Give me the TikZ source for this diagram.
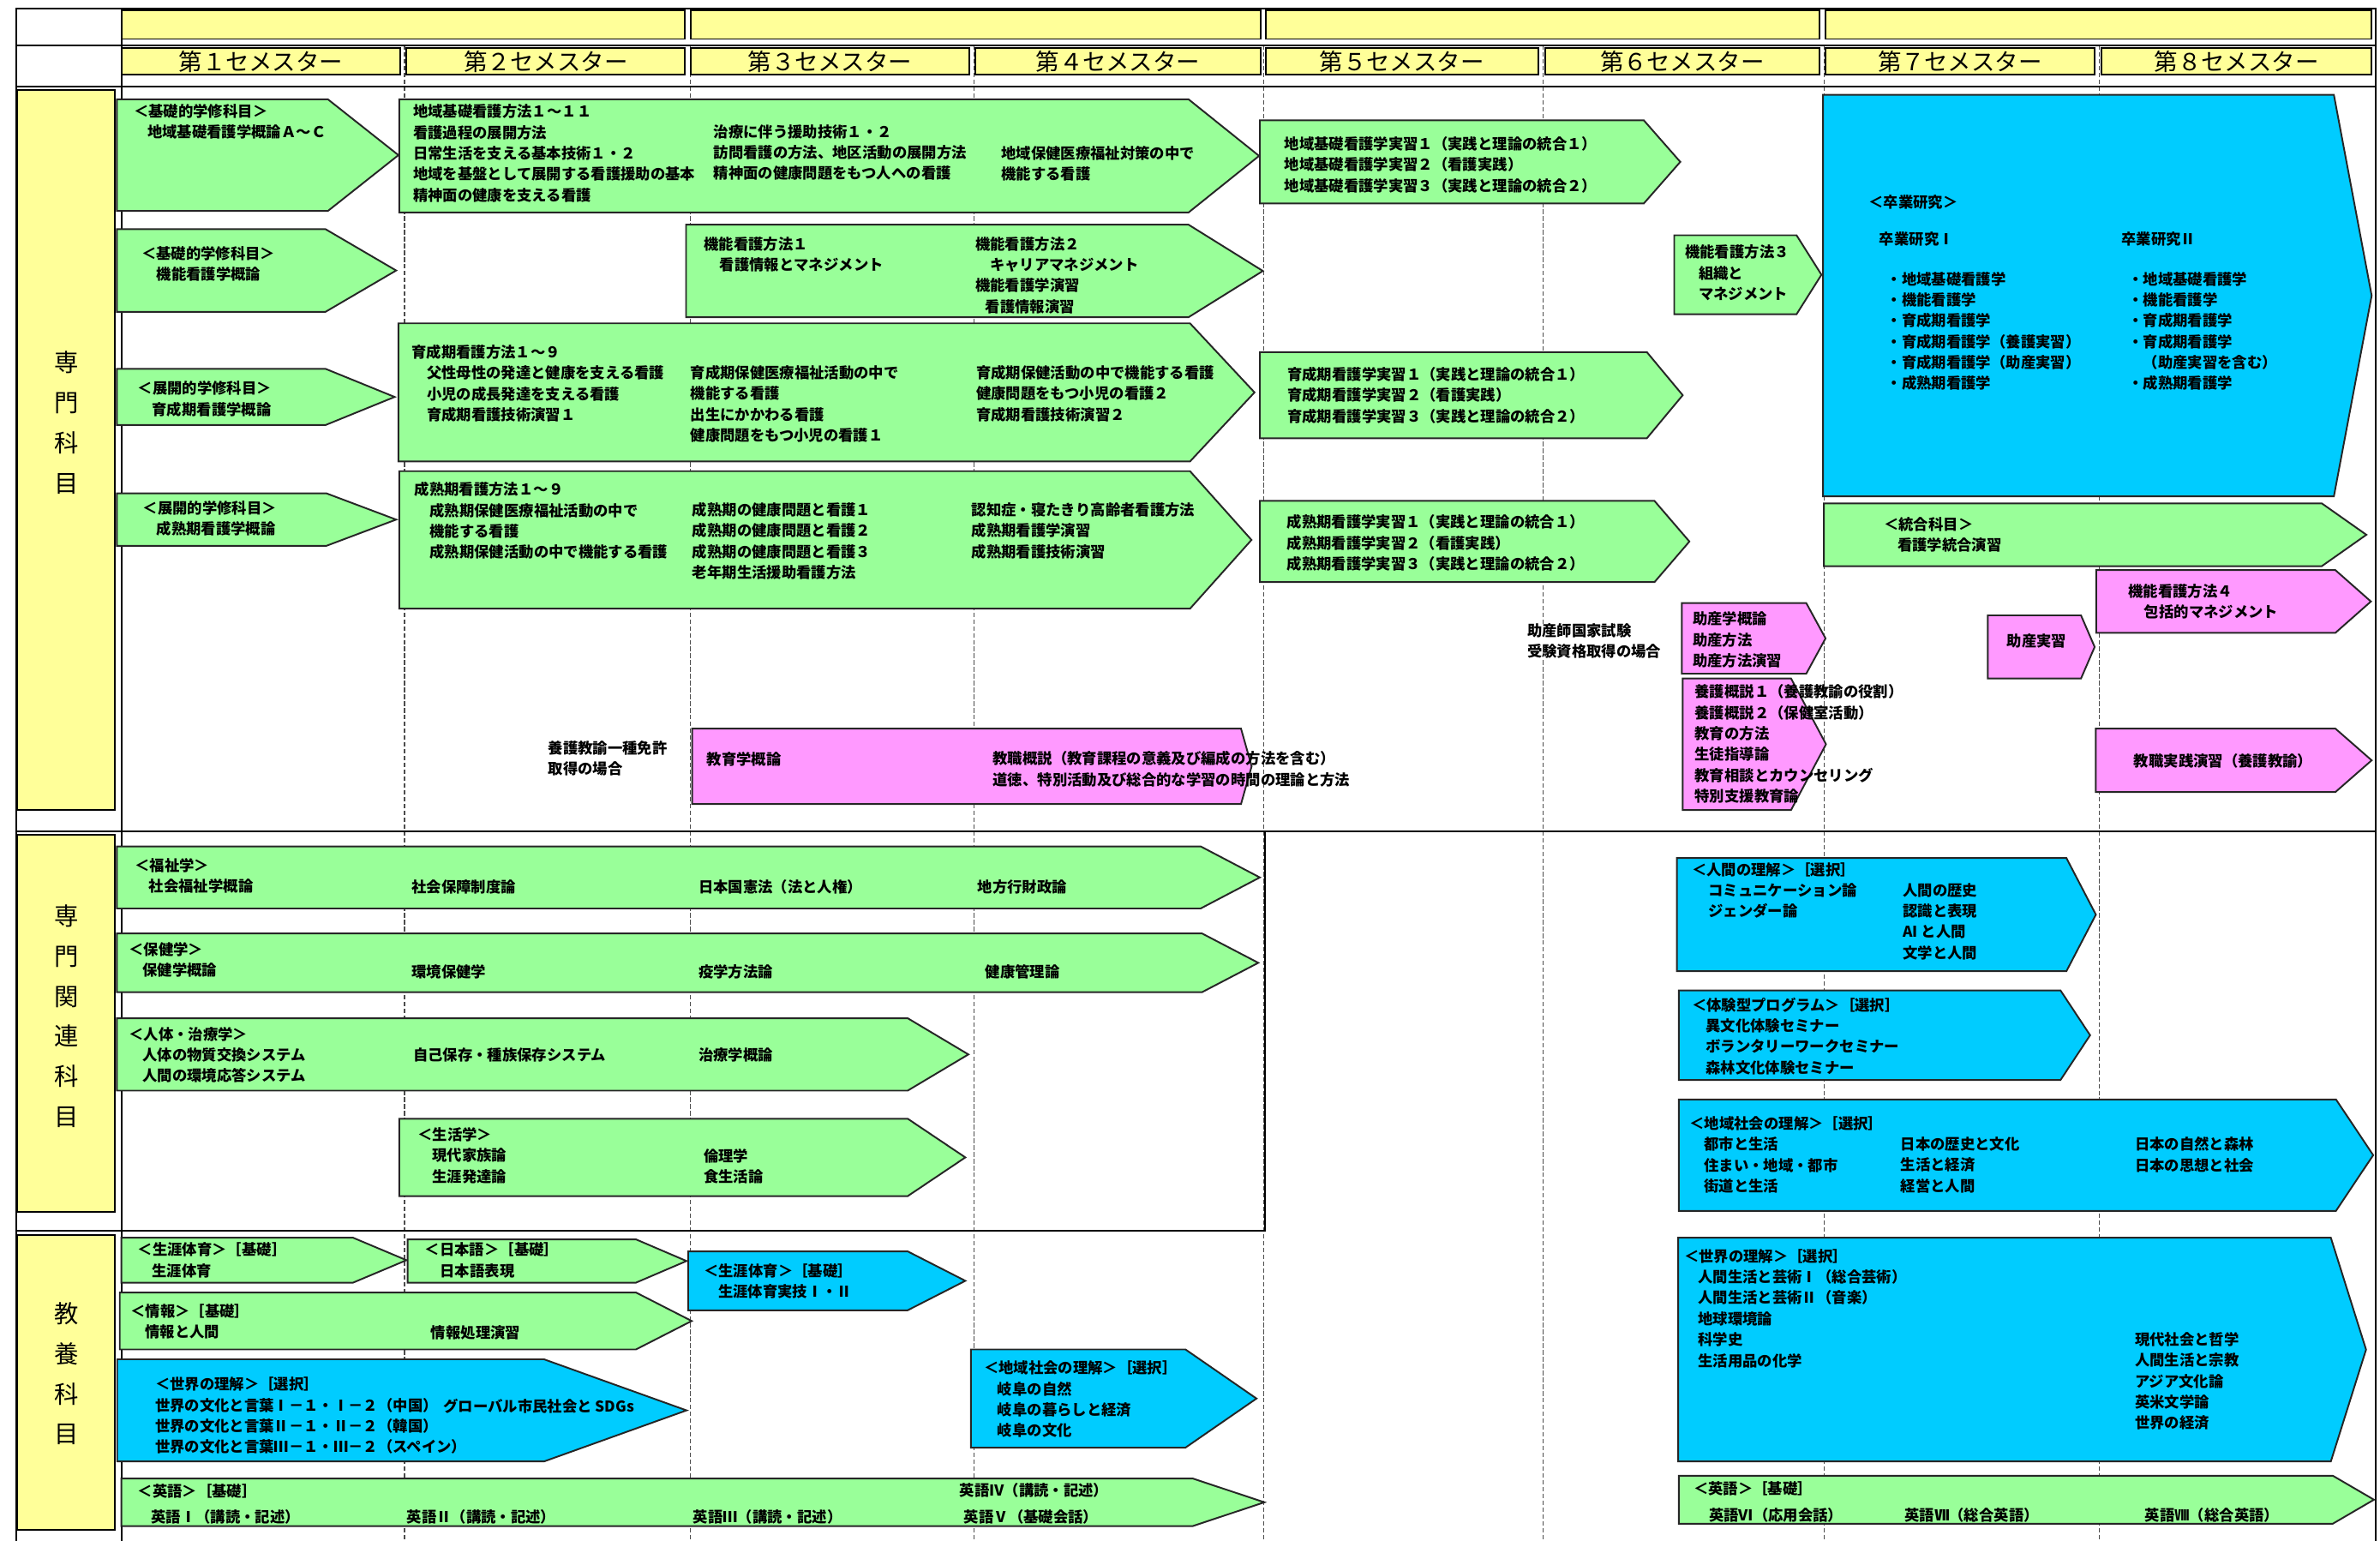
\documentclass[tikz,border=0pt]{standalone}
\usepackage{fontspec}
\setmainfont{Noto Sans CJK JP}
\definecolor{gr}{HTML}{99FF99}
\definecolor{bl}{HTML}{00CCFF}
\definecolor{pk}{HTML}{FF99FF}
\definecolor{yl}{HTML}{FFFF99}
\newcommand\ii[1]{\hspace*{#1pt}}
\newcommand\homeplate[6]{\filldraw[shp,fill=#1] (#2,#3) -- (#5,#3) -- (#6,{(#3+#4)/2}) -- (#5,#4) -- (#2,#4) -- cycle;}
\begin{document}
\begin{tikzpicture}[x=1pt,y=-1pt,
  shp/.style={draw=black!85,line width=1.1pt,line join=miter},
  ybox/.style={fill=yl,draw=black,line width=1.1pt},
  grid/.style={black,line width=1.2pt},
  dsh/.style={black!70,line width=0.6pt,dash pattern=on 3pt off 1.5pt},
  tx/.style={anchor=north west,inner sep=0pt,align=left,yshift=5.1pt,
    font=\fontsize{9.8}{13.75}\selectfont\bfseries,
    execute at begin node={\rule{0pt}{8.8pt}}},
  sem/.style={inner sep=0pt,font=\fontsize{15.5}{18}\selectfont},
  side/.style={inner sep=0pt,align=center,font=\fontsize{16}{26.4}\selectfont}]
\fill[white] (0,0) rectangle (1568,1015);
\useasboundingbox (0,0) rectangle (1568,1015);
% dashed semester separators
\foreach \xx in {266.5,454.8,641.9,832.8,1016.8,1202,1382.8}
  \draw[dsh] (\xx,30) -- (\xx,1015);
% grid
\draw[grid] (10.7,1015) -- (10.7,5.6) -- (1565,5.6) -- (1565,1015);
\draw[grid] (10.7,30.1) -- (1565,30.1);
\draw[grid] (10.7,56.9) -- (1565,56.9);
\draw[grid] (80,5.6) -- (80,1015);
\draw[grid] (10.7,547.6) -- (1565,547.6);
\draw[grid] (10.7,811) -- (833.3,811) -- (833.3,547.6);
% year boxes
\filldraw[ybox] (80,6.7) rectangle (451.4,25.7);
\filldraw[ybox] (455,6.7) rectangle (830.6,25.7);
\filldraw[ybox] (833.8,6.7) rectangle (1198.8,25.7);
\filldraw[ybox] (1202.4,6.7) rectangle (1562.5,25.7);
% semester boxes
\filldraw[ybox] (80,31.7) rectangle (263.8,49.1);
\filldraw[ybox] (267.8,31.7) rectangle (451.4,49.1);
\filldraw[ybox] (455,31.7) rectangle (638.6,49.1);
\filldraw[ybox] (642.5,31.7) rectangle (830.6,49.1);
\filldraw[ybox] (833.8,31.7) rectangle (1013.5,49.1);
\filldraw[ybox] (1017.8,31.7) rectangle (1198.8,49.1);
\filldraw[ybox] (1202.4,31.7) rectangle (1380,49.1);
\filldraw[ybox] (1384.5,31.7) rectangle (1562.5,49.1);
\node[sem] (s1) at (171.9,40.4) {第１セメスター};
\node[sem] (s2) at (359.6,40.4) {第２セメスター};
\node[sem] (s3) at (546.8,40.4) {第３セメスター};
\node[sem] (s4) at (736.5,40.4) {第４セメスター};
\node[sem] (s5) at (923.6,40.4) {第５セメスター};
\node[sem] (s6) at (1108.3,40.4) {第６セメスター};
\node[sem] (s7) at (1291.2,40.4) {第７セメスター};
\node[sem] (s8) at (1473.5,40.4) {第８セメスター};
% side labels
\filldraw[ybox] (11.5,59.2) rectangle (75.4,533.5);
\filldraw[ybox] (11.5,549.8) rectangle (75.4,798.6);
\filldraw[ybox] (11.5,813.7) rectangle (75.4,1008);
\node[side] (L1) at (43.6,278.5) {専\\門\\科\\目};
\node[side] (L2) at (43.6,669.5) {専\\門\\関\\連\\科\\目};
\node[side] (L3) at (43.6,905) {教\\養\\科\\目};
% ===== shapes: 専門科目 =====
\homeplate{gr}{77}{65.4}{139}{216}{262.5}
\homeplate{gr}{263}{65.4}{140}{783}{829.5}
\homeplate{gr}{830}{79.3}{134}{1083}{1107}
\homeplate{gr}{77}{151}{205.4}{214.5}{261}
\homeplate{gr}{77}{243}{280}{214.5}{260}
\homeplate{gr}{77}{325}{359.6}{215}{261}
\homeplate{gr}{262.5}{213}{304}{784}{826.5}
\homeplate{gr}{452}{148}{209}{783}{832}
\homeplate{gr}{263}{310.4}{401}{784}{824.5}
\homeplate{gr}{830}{232}{288.7}{1085}{1108.6}
\homeplate{gr}{830}{330}{383.5}{1090}{1113}
\homeplate{gr}{1103}{155}{207}{1183.6}{1200}
\homeplate{bl}{1201}{62.5}{327}{1537.6}{1562.5}
\homeplate{gr}{1201.6}{331.6}{373}{1529.6}{1559}
\homeplate{pk}{1381}{375.6}{416.9}{1538.6}{1562}
\homeplate{pk}{1309.6}{405.4}{447}{1371}{1380}
\homeplate{pk}{1108}{397.3}{443.8}{1190}{1202.7}
\homeplate{pk}{1108.6}{447}{533.6}{1180}{1203}
\homeplate{pk}{1380.7}{480}{521.8}{1538.6}{1562.5}
\homeplate{pk}{456}{480}{529.7}{817.6}{824.6}
% ===== 専門関連科目 =====
\homeplate{gr}{77}{557.6}{598.5}{791}{830}
\homeplate{gr}{77}{615}{653.6}{792}{829}
\homeplate{gr}{77}{670.8}{718.5}{598}{638}
\homeplate{gr}{263}{737}{788}{598}{636}
% ===== 教養科目 =====
\homeplate{gr}{80}{815.4}{845}{232.6}{267.8}
\homeplate{gr}{268.6}{816.5}{845}{419}{452.3}
\homeplate{gr}{78.9}{851.5}{889}{419}{455.7}
\homeplate{bl}{453.4}{824.4}{863.2}{598}{636}
\homeplate{bl}{77.2}{895.5}{962.8}{358.4}{452.3}
\homeplate{bl}{639.7}{889}{953.7}{781}{827.8}
\homeplate{gr}{80}{974}{1005.4}{785.7}{833}
\homeplate{bl}{1104.8}{565.3}{639.8}{1361.4}{1380.8}
\homeplate{bl}{1106}{652.5}{711.5}{1357.5}{1377}
\homeplate{bl}{1106}{724.3}{797.7}{1539}{1563.5}
\homeplate{bl}{1105.6}{815.4}{962.8}{1535.6}{1558.8}
\homeplate{gr}{1106}{972.2}{1003.8}{1536.9}{1564}
% ===== texts =====
\node[tx] (n01) at (88,73.6) {＜基礎的学修科目＞\\\ii{9}地域基礎看護学概論Ａ～Ｃ};
\node[tx] (n02) at (93,167) {＜基礎的学修科目＞\\\ii{10}機能看護学概論};
\node[tx] (n03) at (90.6,256) {＜展開的学修科目＞\\\ii{9.5}育成期看護学概論};
\node[tx] (n04) at (94,335) {＜展開的学修科目＞\\\ii{9}成熟期看護学概論};
\node[tx] (n05) at (272,73.7) {地域基礎看護方法１～１１\\看護過程の展開方法\\日常生活を支える基本技術１・２\\地域を基盤として展開する看護援助の基本\\精神面の健康を支える看護};
\node[tx] (n06) at (470,87) {治療に伴う援助技術１・２\\訪問看護の方法、地区活動の展開方法\\精神面の健康問題をもつ人への看護};
\node[tx] (n07) at (659.5,101) {地域保健医療福祉対策の中で\\機能する看護};
\node[tx] (n08) at (846,95) {地域基礎看護学実習１（実践と理論の統合１）\\地域基礎看護学実習２（看護実践）\\地域基礎看護学実習３（実践と理論の統合２）};
\node[tx] (n09) at (463.6,160.8) {機能看護方法１\\\ii{10.4}看護情報とマネジメント};
\node[tx] (n10) at (642.5,160.8) {機能看護方法２\\\ii{9.5}キャリアマネジメント\\機能看護学演習\\\ii{6.5}看護情報演習};
\node[tx] (n11) at (1110,166.3) {機能看護方法３\\\ii{9}組織と\\\ii{9}マネジメント};
\node[tx] (n12) at (271,232) {育成期看護方法１～９\\\ii{10}父性母性の発達と健康を支える看護\\\ii{10}小児の成長発達を支える看護\\\ii{10}育成期看護技術演習１};
\node[tx] (n13) at (454.7,245.6) {育成期保健医療福祉活動の中で\\機能する看護\\出生にかかわる看護\\健康問題をもつ小児の看護１};
\node[tx] (n14) at (643,245.6) {育成期保健活動の中で機能する看護\\健康問題をもつ小児の看護２\\育成期看護技術演習２};
\node[tx] (n15) at (848,246.7) {育成期看護学実習１（実践と理論の統合１）\\育成期看護学実習２（看護実践）\\育成期看護学実習３（実践と理論の統合２）};
\node[tx] (n16) at (273,322.6) {成熟期看護方法１～９\\\ii{10}成熟期保健医療福祉活動の中で\\\ii{10}機能する看護\\\ii{10}成熟期保健活動の中で機能する看護};
\node[tx] (n17) at (456,336) {成熟期の健康問題と看護１\\成熟期の健康問題と看護２\\成熟期の健康問題と看護３\\老年期生活援助看護方法};
\node[tx] (n18) at (640,336) {認知症・寝たきり高齢者看護方法\\成熟期看護学演習\\成熟期看護技術演習};
\node[tx] (n19) at (847.7,344) {成熟期看護学実習１（実践と理論の統合１）\\成熟期看護学実習２（看護実践）\\成熟期看護学実習３（実践と理論の統合２）};
\node[tx] (n20) at (1231,133) {＜卒業研究＞};
\node[tx] (n21) at (1238,157.4) {卒業研究Ⅰ};
\node[tx] (n22) at (1243,184) {・地域基礎看護学\\・機能看護学\\・育成期看護学\\・育成期看護学（養護実習）\\・育成期看護学（助産実習）\\・成熟期看護学};
\node[tx] (n23) at (1397.5,157.4) {卒業研究Ⅱ};
\node[tx] (n24) at (1402,184) {・地域基礎看護学\\・機能看護学\\・育成期看護学\\・育成期看護学\\\ii{9.8}（助産実習を含む）\\・成熟期看護学};
\node[tx] (n25) at (1241,345.6) {＜統合科目＞\\\ii{9}看護学統合演習};
\node[tx] (n26) at (1402,389.7) {機能看護方法４\\\ii{10.5}包括的マネジメント};
\node[tx] (n27) at (1322,422) {助産実習};
\node[tx] (n28) at (1115,408) {助産学概論\\助産方法\\助産方法演習};
\node[tx,fill=white] (n29) at (1006,415.7) {助産師国家試験\\受験資格取得の場合};
\node[tx] (n30) at (1116.4,456) {養護概説１（養護教諭の役割）\\養護概説２（保健室活動）\\教育の方法\\生徒指導論\\教育相談とカウンセリング\\特別支援教育論};
\node[tx] (n31) at (1405.7,501) {教職実践演習（養護教諭）};
\node[tx] (n32) at (465.5,500) {教育学概論};
\node[tx] (n33) at (654,500) {教職概説（教育課程の意義及び編成の方法を含む）\\道徳、特別活動及び総合的な学習の時間の理論と方法};
\node[tx] (n34) at (361,493) {養護教諭一種免許\\取得の場合};
\node[tx] (n35) at (88.7,570.4) {＜福祉学＞\\\ii{9.3}社会福祉学概論};
\node[tx] (n36) at (271,584) {社会保障制度論};
\node[tx] (n37) at (460,584) {日本国憲法（法と人権）};
\node[tx] (n38) at (644,584) {地方行財政論};
\node[tx] (n39) at (84.7,625.7) {＜保健学＞\\\ii{9}保健学概論};
\node[tx] (n40) at (271,640) {環境保健学};
\node[tx] (n41) at (460,640) {疫学方法論};
\node[tx] (n42) at (649,640) {健康管理論};
\node[tx] (n43) at (84.7,681.5) {＜人体・治療学＞\\\ii{9}人体の物質交換システム\\\ii{9}人間の環境応答システム};
\node[tx] (n44) at (272,695) {自己保存・種族保存システム};
\node[tx] (n45) at (460,695) {治療学概論};
\node[tx] (n46) at (275,747.6) {＜生活学＞\\\ii{9.6}現代家族論\\\ii{9.6}生涯発達論};
\node[tx] (n47) at (463.5,761.6) {倫理学\\食生活論};
\node[tx] (n48) at (90.6,823.6) {＜生涯体育＞［基礎］\\\ii{9.4}生涯体育};
\node[tx] (n49) at (279.8,823.6) {＜日本語＞［基礎］\\\ii{10}日本語表現};
\node[tx] (n50) at (85.8,864) {＜情報＞［基礎］\\\ii{9.6}情報と人間};
\node[tx] (n51) at (283.8,877.5) {情報処理演習};
\node[tx] (n52) at (463.5,837.4) {＜生涯体育＞［基礎］\\\ii{9.5}生涯体育実技Ⅰ・Ⅱ};
\node[tx] (n53) at (102,912.3) {＜世界の理解＞［選択］\\世界の文化と言葉Ⅰ－１・Ⅰ－２（中国）\\世界の文化と言葉Ⅱ－１・Ⅱ－２（韓国）\\世界の文化と言葉Ⅲ－１・Ⅲ－２（スペイン）};
\node[tx] (n54) at (292,926.3) {グローバル市民社会と SDGs};
\node[tx] (n55) at (648,901.5) {＜地域社会の理解＞［選択］\\\ii{9}岐阜の自然\\\ii{9}岐阜の暮らしと経済\\\ii{9}岐阜の文化};
\node[tx] (n56) at (90.6,982.3) {＜英語＞［基礎］};
\node[tx] (n57) at (99.4,999.4) {英語Ⅰ（講読・記述）};
\node[tx] (n58) at (267.8,999.4) {英語Ⅱ（講読・記述）};
\node[tx] (n59) at (456.5,999.4) {英語Ⅲ（講読・記述）};
\node[tx] (n60) at (632,981.6) {英語Ⅳ（講読・記述）};
\node[tx] (n61) at (635,999.4) {英語Ⅴ（基礎会話）};
\node[tx] (n62) at (1114.4,573) {＜人間の理解＞［選択］\\\ii{11}コミュニケーション論\\\ii{11}ジェンダー論};
\node[tx] (n63) at (1253.5,586.7) {人間の歴史\\認識と表現\\AI と人間\\文学と人間};
\node[tx] (n64) at (1114.4,662) {＜体験型プログラム＞［選択］\\\ii{9.3}異文化体験セミナー\\\ii{9.3}ボランタリーワークセミナー\\\ii{9.3}森林文化体験セミナー};
\node[tx] (n65) at (1113,740.3) {＜地域社会の理解＞［選択］\\\ii{9.5}都市と生活\\\ii{9.5}住まい・地域・都市\\\ii{9.5}街道と生活};
\node[tx] (n66) at (1252,754) {日本の歴史と文化\\生活と経済\\経営と人間};
\node[tx] (n67) at (1406.4,754) {日本の自然と森林\\日本の思想と社会};
\node[tx] (n68) at (1109.3,827.8) {＜世界の理解＞［選択］\\\ii{9.3}人間生活と芸術Ⅰ（総合芸術）\\\ii{9.3}人間生活と芸術Ⅱ（音楽）\\\ii{9.3}地球環境論\\\ii{9.3}科学史\\\ii{9.3}生活用品の化学};
\node[tx] (n69) at (1406.4,882.6) {現代社会と哲学\\人間生活と宗教\\アジア文化論\\英米文学論\\世界の経済};
\node[tx] (n70) at (1115.6,980.8) {＜英語＞［基礎］};
\node[tx] (n71) at (1125.7,997.8) {英語Ⅵ（応用会話）};
\node[tx] (n72) at (1254.7,997.8) {英語Ⅶ（総合英語）};
\node[tx] (n73) at (1413,997.8) {英語Ⅷ（総合英語）};
\end{tikzpicture}
\end{document}
